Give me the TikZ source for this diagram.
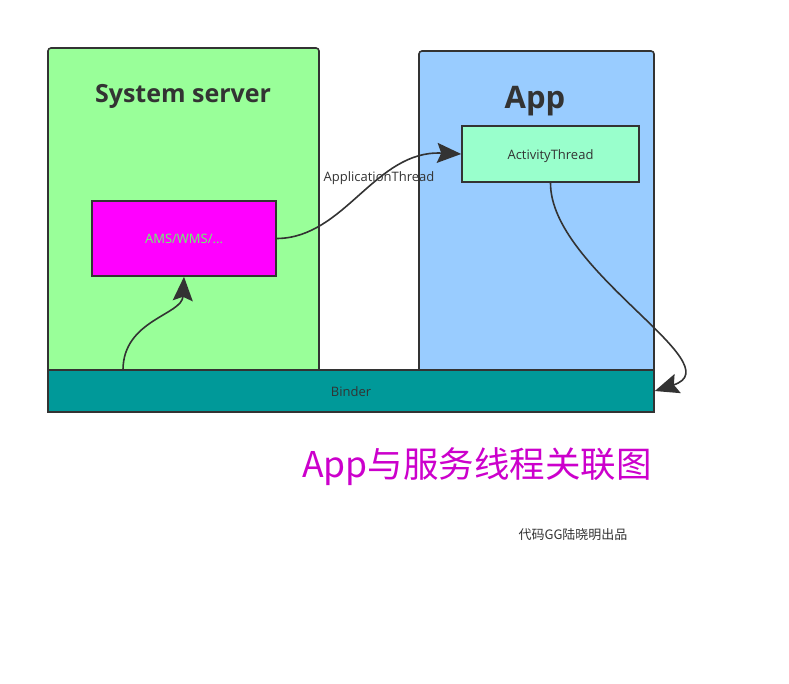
\documentclass[tikz,border=0pt]{standalone}
\usepackage{fontspec}
\setmainfont{Open Sans}
\newfontfamily\cjk{Noto Sans CJK SC}
\usetikzlibrary{arrows.meta}
\definecolor{edge}{HTML}{333333}
\definecolor{srvgreen}{HTML}{99FF99}
\definecolor{appblue}{HTML}{99CCFF}
\definecolor{amsmag}{HTML}{FF00FF}
\definecolor{mint}{HTML}{99FFCC}
\definecolor{binderteal}{HTML}{009999}
\definecolor{amstext}{HTML}{66FF66}
\definecolor{titlemag}{HTML}{CC00CC}
\tikzset{
  panel/.style={draw=edge, line width=1.6pt, rounded corners=3pt, inner sep=0pt},
  innerbox/.style={draw=edge, line width=1.6pt, inner sep=0pt, font=\fontsize{13}{15}\selectfont, text=edge, text height=9pt, text depth=3pt},
  link/.style={draw=edge, line width=1.6pt, -{Stealth[length=24pt, width=20pt, inset=4pt]}}
}
\begin{document}
\begin{tikzpicture}[x=1pt, y=-1pt]
\useasboundingbox[fill=white] (0,0) rectangle (789,683);
\node[panel, fill=srvgreen, minimum width=271pt, minimum height=364pt] (sysserver) at (183.5,230) {};
\node[panel, fill=appblue, minimum width=235pt, minimum height=361pt] (app) at (536.5,231.5) {};
\node[font=\bfseries\fontsize{25}{30}\selectfont, text=edge] (srvtitle) at (183,96) {System server};
\node[font=\bfseries\fontsize{31}{36}\selectfont, text=edge] (apptitle) at (535,101) {App};
\node[innerbox, fill=amsmag, text=amstext, minimum width=184pt, minimum height=75pt] (ams) at (184,238.5) {\raisebox{-2pt}{AMS/WMS/...}};
\node[innerbox, fill=mint, minimum width=177pt, minimum height=56pt] (actthread) at (550.5,154) {\raisebox{-2pt}{ActivityThread}};
\node[innerbox, fill=binderteal, minimum width=606pt, minimum height=42pt] (binder) at (351,391) {\raisebox{-2pt}{Binder}};
\coordinate (bindertop) at (123,370);
\draw[link] (ams.east) .. controls (345,238) and (375,150) .. (actthread.west);
\node[font=\fontsize{13}{15}\selectfont, text=edge] (atlabel) at (379,178) {ApplicationThread};
\draw[link] (bindertop) .. controls (123,320) and (182,315) .. (ams.south);
\draw[link] (actthread.south) .. controls (550,270) and (735,365) .. (binder.east);
\node[font=\cjk\fontsize{35.5}{40}\selectfont, text=titlemag] (maintitle) at (477,467) {App与服务线程关联图};
\node[font=\cjk\fontsize{13}{15}\selectfont, text=edge] (credit) at (573,535) {代码GG陆晓明出品};
\end{tikzpicture}
\end{document}
